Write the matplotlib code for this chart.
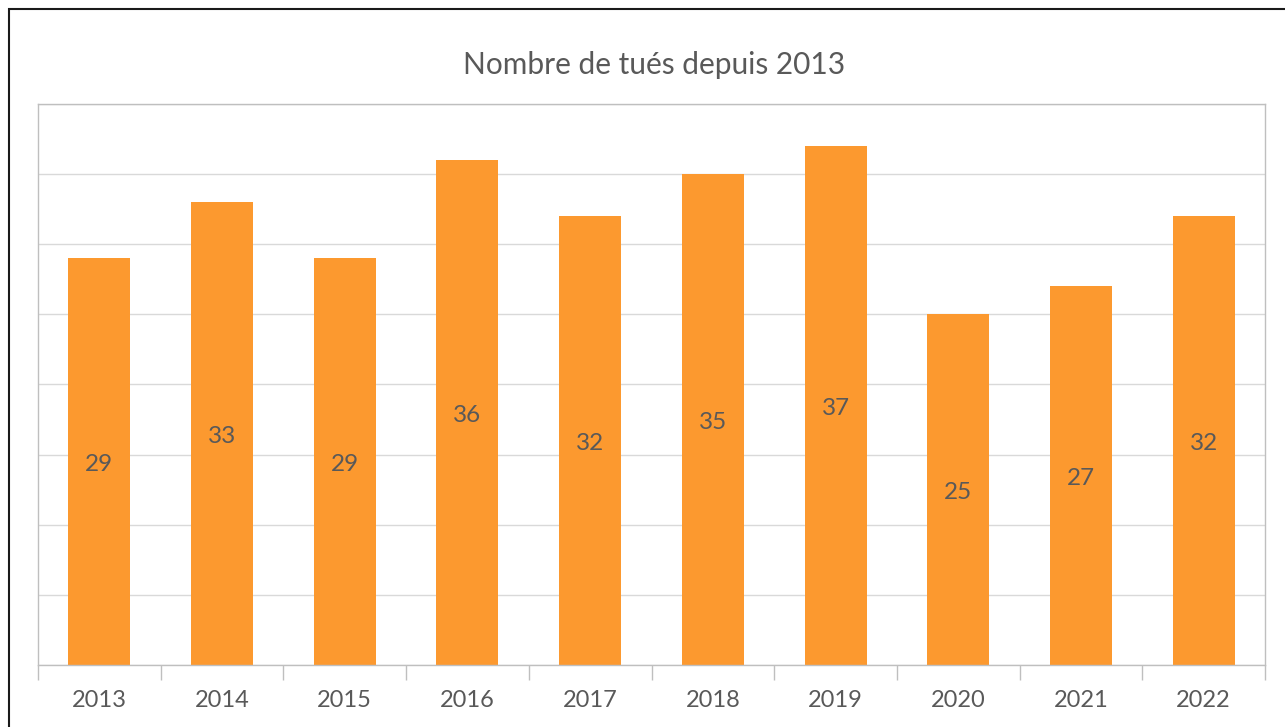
import matplotlib
matplotlib.use("Agg")
import matplotlib.pyplot as plt
from matplotlib.patches import Rectangle
import numpy as np

# ── Données ──────────────────────────────────────────────────────
annees = ["2013", "2014", "2015", "2016", "2017", "2018", "2019", "2020", "2021", "2022"]
tues = [29, 33, 29, 36, 32, 35, 37, 25, 27, 32]

ORANGE = "#FC992F"
TEXTE = "#595959"
GRILLE = "#D9D9D9"
CADRE = "#BFBFBF"

plt.rcParams["font.family"] = ["Lato", "DejaVu Sans"]

fig = plt.figure(figsize=(12.85, 7.27), dpi=100, facecolor="white")
ax = fig.add_axes([38 / 1285, 1 - 665 / 727, (1265 - 38) / 1285, (665 - 104) / 727])

x = np.arange(len(annees))
bars = ax.bar(x, tues, width=0.505, color=ORANGE, zorder=2)

# étiquettes de valeur au milieu des barres
for xi, v in zip(x, tues):
    ax.text(xi, v / 2 - 0.2, str(v), ha="center", va="center", color=TEXTE, fontsize=17.5, zorder=3)

ax.set_xlim(-0.5, len(annees) - 0.5)
ax.set_ylim(0, 40)
ax.set_yticks(np.arange(0, 41, 5))
ax.set_yticklabels([])
ax.tick_params(axis="y", length=0)
ax.yaxis.grid(True, color=GRILLE, linewidth=1)
ax.set_axisbelow(True)

# catégories : ticks aux frontières, étiquettes au centre
ax.set_xticks(np.arange(-0.5, len(annees), 1))
ax.set_xticklabels([])
ax.set_xticks(x, minor=True)
ax.set_xticklabels(annees, minor=True)
ax.tick_params(axis="x", which="major", length=11, color=CADRE, width=1)
ax.tick_params(axis="x", which="minor", length=0, pad=18, labelsize=17, labelcolor=TEXTE)

for sp in ax.spines.values():
    sp.set_edgecolor(CADRE)
    sp.set_linewidth(1)

fig.text(654 / 1285, 1 - 65 / 727, "Nombre de tués depuis 2013", ha="center", va="center",
         color=TEXTE, fontsize=21.5)

# cadre extérieur
fig.patches.append(Rectangle((9 / 1285, -0.1), 1.2, 1 - 9 / 727 + 0.1,
                             transform=fig.transFigure, fill=False,
                             edgecolor="#1a1a1a", linewidth=1.5))

fig.savefig("out.png", dpi=100, facecolor="white")
